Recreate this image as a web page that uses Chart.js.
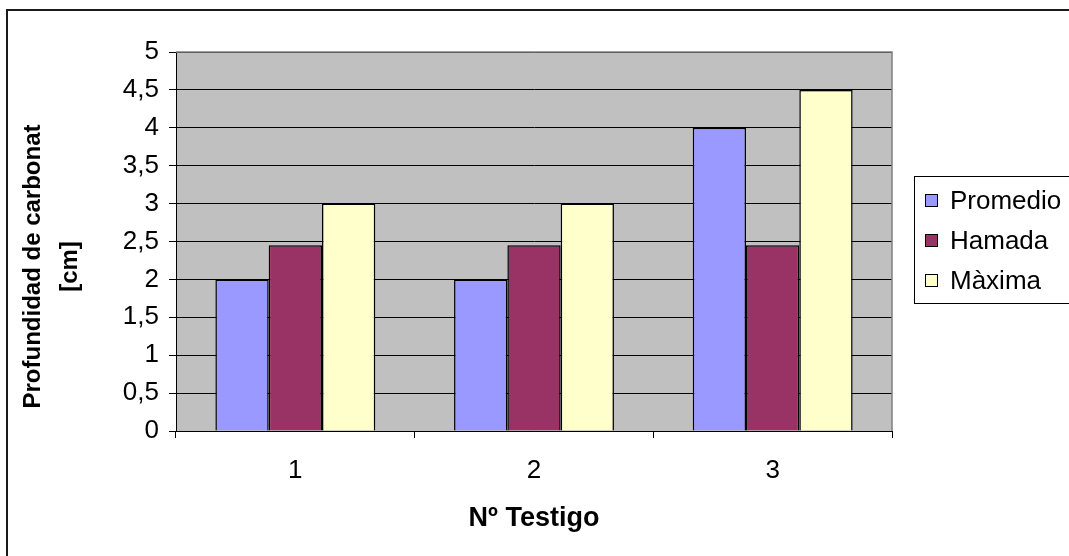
<!DOCTYPE html>
<html>
<head>
<meta charset="utf-8">
<script src="https://cdn.jsdelivr.net/npm/chart.js@4"></script>
<style>
  html, body { margin: 0; padding: 0; background: #fff; }
  #wrap { width: 1069px; height: 556px; position: relative; }
</style>
</head>
<body>
<div id="wrap"><canvas id="c" width="1069" height="556"></canvas></div>
<script>
// Test specimens (Nº Testigo) and carbonation depth in cm
const categories = ['1', '2', '3'];
const promedio = [2, 2, 4];
const hamada = [2.45, 2.45, 2.45];
const maxima = [3, 3, 4.5];
const seriesNames = ['Promedio', 'Hamada', 'Màxima'];
const yTickLabels = ['0', '0,5', '1', '1,5', '2', '2,5', '3', '3,5', '4', '4,5', '5'];
const xTitle = 'Nº Testigo';
const yTitle = ['Profundidad de carbonat', '[cm]'];

const FONT = '"Liberation Sans", Arial, sans-serif';
const colors = ['#9999FF', '#993366', '#FFFFCC'];

// Grey plot background, outer frame, axis titles and a boxed legend
const decor = {
  id: 'decor',
  beforeDraw(chart) {
    const { ctx, chartArea: a } = chart;
    ctx.save();
    ctx.fillStyle = '#C0C0C0';
    ctx.fillRect(a.left, a.top, a.right - a.left, a.bottom - a.top);
    ctx.restore();
  },
  afterDraw(chart) {
    const { ctx, chartArea: a } = chart;
    ctx.save();
    // plot frame: top and right edges in grey
    ctx.strokeStyle = '#808080';
    ctx.lineWidth = 1.5;
    ctx.beginPath();
    ctx.moveTo(a.left, a.top);
    ctx.lineTo(a.right, a.top);
    ctx.lineTo(a.right, a.bottom);
    ctx.stroke();

    // outer chart frame
    ctx.strokeStyle = '#1a1a1a';
    ctx.lineWidth = 2;
    ctx.beginPath();
    ctx.moveTo(7, chart.height + 2);
    ctx.lineTo(7, 10);
    ctx.lineTo(chart.width + 2, 10);
    ctx.stroke();

    // axis titles
    ctx.fillStyle = '#000';
    ctx.textAlign = 'center';
    ctx.textBaseline = 'middle';
    ctx.font = 'bold 27px ' + FONT;
    ctx.fillText(xTitle, (a.left + a.right) / 2, 519);
    ctx.font = 'bold 24px ' + FONT;
    const cy = (a.top + a.bottom) / 2 + 25;
    [33, 70].forEach((x, i) => {
      ctx.save();
      ctx.translate(x, cy);
      ctx.rotate(-Math.PI / 2);
      ctx.fillText(yTitle[i], 0, 0);
      ctx.restore();
    });

    // legend
    ctx.strokeStyle = '#000';
    ctx.lineWidth = 1;
    ctx.strokeRect(914.5, 176.5, 200, 127);
    ctx.font = '26px ' + FONT;
    ctx.textAlign = 'left';
    chart.data.datasets.forEach((ds, i) => {
      const y = 201 + i * 40;
      ctx.fillStyle = ds.backgroundColor;
      ctx.fillRect(925.5, y - 6.5, 12, 12);
      ctx.strokeRect(925.5, y - 6.5, 12, 12);
      ctx.fillStyle = '#000';
      ctx.fillText(ds.label, 950, y + 1);
    });
    ctx.restore();
  }
};

new Chart(document.getElementById('c'), {
  type: 'bar',
  data: {
    labels: categories,
    datasets: [promedio, hamada, maxima].map((d, i) => ({
      label: seriesNames[i],
      data: d,
      backgroundColor: colors[i],
      borderColor: '#000',
      borderWidth: 1.5,
      categoryPercentage: 0.67,
      barPercentage: 1
    }))
  },
  options: {
    responsive: false,
    devicePixelRatio: 1,
    animation: false,
    layout: { padding: { top: 52, right: 177, left: 0, bottom: 0 } },
    plugins: { legend: { display: false }, tooltip: { enabled: false } },
    scales: {
      x: {
        afterFit(s) { s.height = 125; },
        grid: { offset: true, drawOnChartArea: false, color: '#000', tickLength: 7, lineWidth: 1 },
        border: { color: '#000', width: 1 },
        ticks: { color: '#000', font: { family: FONT, size: 26 }, padding: 17 }
      },
      y: {
        min: 0,
        max: 5,
        afterFit(s) { s.width = 176; },
        grid: { color: '#000', tickLength: 7, lineWidth: 1 },
        border: { color: '#000', width: 1 },
        ticks: {
          stepSize: 0.5,
          color: '#000',
          font: { family: FONT, size: 26 },
          padding: 10,
          callback: (v, i) => yTickLabels[i]
        }
      }
    }
  },
  plugins: [decor]
});
</script>
</body>
</html>
